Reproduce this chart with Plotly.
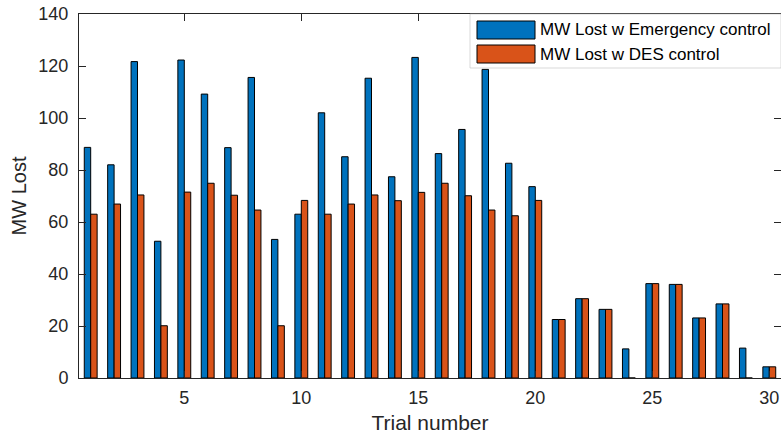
import plotly.graph_objects as go

# Trial results: MW lost per trial under each control scheme
trials = list(range(1, 31))
mw_emergency = [88.7, 82.0, 121.7, 52.6, 122.3, 109.2, 88.6, 115.6, 53.3, 63.0,
                102.0, 85.1, 115.3, 77.4, 123.3, 86.3, 95.6, 118.7, 82.6, 73.6,
                22.5, 30.5, 26.4, 11.2, 36.3, 36.0, 23.1, 28.5, 11.5, 4.3]
mw_des = [63.0, 66.9, 70.4, 20.1, 71.5, 74.9, 70.3, 64.6, 20.1, 68.3,
          63.0, 66.9, 70.4, 68.2, 71.4, 74.9, 70.1, 64.6, 62.4, 68.3,
          22.5, 30.5, 26.4, 0.0, 36.3, 36.0, 23.1, 28.5, 0.0, 4.3]
series_names = ["MW Lost w Emergency control", "MW Lost w DES control"]
x_ticks = [5, 10, 15, 20, 25, 30]
y_ticks = [0, 20, 40, 60, 80, 100, 120, 140]

BLUE = "#0072BD"
ORANGE = "#D95319"
AXIS = "#262626"
FONT = "Liberation Sans, Arial, sans-serif"

fig = go.Figure()
for vals, color, name in [(mw_emergency, BLUE, series_names[0]),
                          (mw_des, ORANGE, series_names[1])]:
    fig.add_trace(go.Bar(
        x=trials, y=vals, name=name, showlegend=False,
        marker=dict(color=color, line=dict(color="black", width=1)),
    ))

# Legend drawn as a boxed key in the top-right corner
L = 79
W = 702
T = 14
H = 364

def px(x):
    return (x - L) / W

def py(y):
    return (T + H - y) / H

shapes = [
    dict(type="rect", xref="paper", yref="paper",
         x0=px(470), x1=1.0, y0=py(68), y1=1.0,
         fillcolor="white", line=dict(color="#bfbfbf", width=0.6), layer="above"),
]
annotations = []
for i, (color, name) in enumerate([(BLUE, series_names[0]), (ORANGE, series_names[1])]):
    top = 21 + i * 24
    shapes.append(dict(type="rect", xref="paper", yref="paper",
                       x0=px(477), x1=px(535), y0=py(top + 18), y1=py(top),
                       fillcolor=color, line=dict(color="black", width=1),
                       layer="above"))
    annotations.append(dict(text=name, xref="paper", yref="paper",
                            x=px(538), y=py(top + 9), xanchor="left",
                            yanchor="middle", showarrow=False,
                            font=dict(family=FONT, size=17, color="black")))

fig.update_layout(
    width=781, height=440,
    margin=dict(l=L, r=0, t=T, b=440 - T - H),
    paper_bgcolor="white", plot_bgcolor="white",
    barmode="group", bargap=0.45, bargroupgap=0.0,
    font=dict(family=FONT, size=18, color=AXIS),
    shapes=shapes, annotations=annotations,
    xaxis=dict(
        range=[0.5, 30.5], tickvals=x_ticks, ticks="inside", ticklen=7,
        tickcolor=AXIS, showline=True, linecolor=AXIS, linewidth=1,
        mirror="ticks", showgrid=False, zeroline=False,
        tickfont=dict(size=18, color=AXIS), ticklabelstandoff=3,
        title=dict(text="Trial number", font=dict(size=21, color=AXIS), standoff=8),
    ),
    yaxis=dict(
        range=[0, 140], tickvals=y_ticks, ticks="inside", ticklen=7,
        tickcolor=AXIS, showline=True, linecolor=AXIS, linewidth=1,
        mirror="ticks", showgrid=False, zeroline=False,
        tickfont=dict(size=18, color=AXIS), ticklabelstandoff=6,
        title=dict(text="MW Lost", font=dict(size=20, color=AXIS), standoff=6),
    ),
)

fig.write_html("out.html")
